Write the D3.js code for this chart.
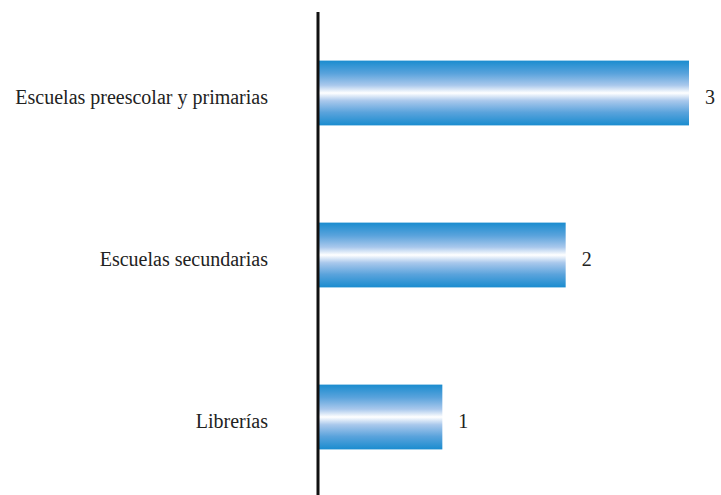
<!DOCTYPE html>
<html><head><meta charset="utf-8">
<script src="https://cdn.jsdelivr.net/npm/d3@7"></script>
<style>body{margin:0;background:#fff}svg{display:block}
text{font-family:"Liberation Serif","Times New Roman",Times,serif;}</style>
</head><body>
<script>
const categories = ["Escuelas preescolar y primarias", "Escuelas secundarias", "Librerías"];
const values = [3, 2, 1];

const W = 721, H = 495;
const svg = d3.select("body").append("svg").attr("width", W).attr("height", H);

const defs = svg.append("defs");
const grad = defs.append("linearGradient").attr("id", "g").attr("x1", 0).attr("y1", 0).attr("x2", 0).attr("y2", 1);
[[0, "#1a8ccf"], [0.2, "#5aa3dc"], [0.38, "#a9c8ec"], [0.5, "#ffffff"], [0.62, "#a9c8ec"], [0.8, "#5aa3dc"], [1, "#1a8ccf"]]
  .forEach(([o, c]) => grad.append("stop").attr("offset", o).attr("stop-color", c));

const x = d3.scaleLinear().domain([0, 3]).range([319, 689]);
const y = d3.scaleBand().domain(categories).range([12, 498]).paddingInner(0.6).paddingOuter(0.3);

svg.selectAll("rect.bar").data(categories).join("rect")
  .attr("class", "bar")
  .attr("x", x(0))
  .attr("y", d => y(d))
  .attr("width", (d, i) => x(values[i]) - x(0))
  .attr("height", y.bandwidth())
  .attr("fill", "url(#g)");

svg.append("line").attr("x1", 318).attr("x2", 318).attr("y1", 12).attr("y2", H)
  .attr("stroke", "#111").attr("stroke-width", 3);

svg.selectAll("text.cat").data(categories).join("text")
  .attr("class", "cat")
  .attr("x", 268)
  .attr("y", d => y(d) + y.bandwidth() / 2 + 10.5)
  .attr("text-anchor", "end")
  .attr("font-size", 20)
  .attr("fill", "#222")
  .text(d => d);

svg.selectAll("text.val").data(categories).join("text")
  .attr("class", "val")
  .attr("x", (d, i) => x(values[i]) + 21)
  .attr("y", d => y(d) + y.bandwidth() / 2 + 11)
  .attr("text-anchor", "middle")
  .attr("font-size", 20)
  .attr("fill", "#222")
  .text((d, i) => values[i]);
</script>
</body></html>
